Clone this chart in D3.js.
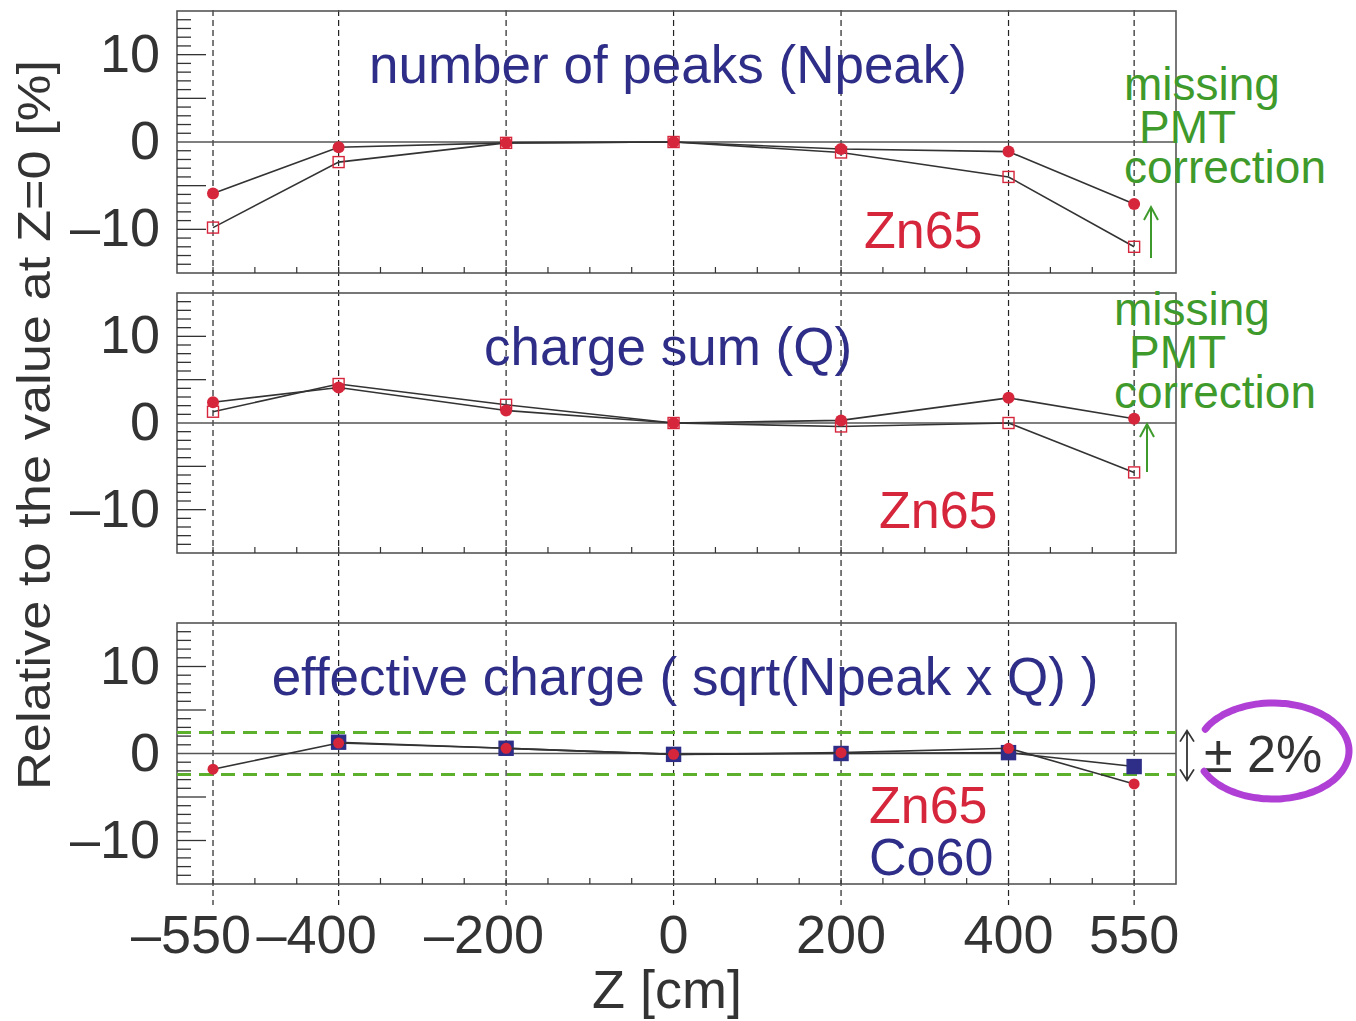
<!DOCTYPE html>
<html>
<head>
<meta charset="utf-8">
<script src="https://cdn.jsdelivr.net/npm/d3@7"></script>
<style>
  body { margin: 0; background: #fff; }
  svg text { font-family: "Liberation Sans", Arial, Helvetica, sans-serif; }
</style>
</head>
<body>
<div id="chart"></div>
<script>
"use strict";

// Z positions of the source runs [cm]
var zPos = [-550, -400, -200, 0, 200, 400, 550];

// number of peaks, relative to Z=0 [%]
var npeakCorrected = [-5.9, -0.6, -0.1, 0, -0.8, -1.1, -7.1];
var npeakRaw       = [-9.8, -2.3, -0.1, 0, -1.2, -4.0, -12.0];

// charge sum
var qCorrected = [2.4, 4.1, 1.45, 0, 0.3, 2.9, 0.5];
var qRaw       = [1.3, 4.5, 2.1, 0, -0.4, 0.0, -5.7];

// effective charge
var effZn65 = [-1.8, 1.2, 0.6, -0.1, 0.1, 0.6, -3.5];
var effCo60 = [null, 1.3, 0.6, -0.1, 0.0, 0.1, -1.5];

var bandLimits = [2.4, -2.4];

var xTickLabels = [-550, -400, -200, 0, 200, 400, 550];
var yTickLabels = [10, 0, -10];

var RED = "#d6263c", NAVY = "#2e2e88", GREEN = "#3f9a2c", AXIS = "#555";

var svg = d3.select("#chart").append("svg")
	.attr("width", 1356).attr("height", 1021);

var x = d3.scaleLinear().domain([-593, 600]).range([177, 1176]);

var panels = [
	{top: 11, bottom: 273, title: "number of peaks (Npeak)", tx: 668, ty: 83},
	{top: 293, bottom: 553, title: "charge sum (Q)", tx: 668, ty: 365},
	{top: 623, bottom: 884, title: "effective charge ( sqrt(Npeak x Q) )", tx: 685, ty: 695}
];
panels.forEach(function(p) {
	p.y = d3.scaleLinear().domain([-15, 15]).range([p.bottom, p.top]);
});

function fmt(d) {
	// IDL style minus
	return d < 0 ? "\u2013" + Math.abs(d) : "" + d;
}

// vertical dashed guides through all panels
svg.append("g").selectAll("line")
	.data(zPos)
	.enter().append("line")
	.attr("x1", function(d) { return x(d); })
	.attr("x2", function(d) { return x(d); })
	.attr("y1", 10).attr("y2", 905)
	.attr("stroke", "#222").attr("stroke-width", 1.2)
	.attr("stroke-dasharray", "6,4");

var line = d3.line()
	.defined(function(d) { return d[1] != null; })
	.x(function(d) { return x(d[0]); });

function drawPanel(p) {
	var g = svg.append("g");
	var y = p.y;

	// box
	g.append("rect")
		.attr("x", x.range()[0]).attr("y", p.top)
		.attr("width", x.range()[1] - x.range()[0])
		.attr("height", p.bottom - p.top)
		.attr("fill", "none").attr("stroke", AXIS).attr("stroke-width", 1.6);

	// zero line
	g.append("line")
		.attr("x1", x.range()[0]).attr("x2", x.range()[1])
		.attr("y1", y(0)).attr("y2", y(0))
		.attr("stroke", AXIS).attr("stroke-width", 1.4);

	// y ticks: minor every 1, major every 5
	var yt = d3.range(-14, 15).filter(function(d) { return d != 0; });
	g.append("g").selectAll("line")
		.data(yt)
		.enter().append("line")
		.attr("x1", x.range()[0])
		.attr("x2", function(d) { return x.range()[0] + (d % 5 == 0 ? 29 : 14); })
		.attr("y1", function(d) { return y(d); })
		.attr("y2", function(d) { return y(d); })
		.attr("stroke", "#333").attr("stroke-width", 1.3);

	// x ticks every 50
	g.append("g").selectAll("line")
		.data(d3.range(-550, 600, 50))
		.enter().append("line")
		.attr("x1", function(d) { return x(d); })
		.attr("x2", function(d) { return x(d); })
		.attr("y1", p.bottom).attr("y2", p.bottom - 6)
		.attr("stroke", "#333").attr("stroke-width", 1.2);

	g.append("g").selectAll("text")
		.data(yTickLabels)
		.enter().append("text")
		.attr("x", 160)
		.attr("y", function(d) { return y(d) + 17; })
		.attr("text-anchor", "end")
		.attr("font-size", 54)
		.attr("fill", "#333")
		.text(fmt);

	g.append("text")
		.attr("x", p.tx).attr("y", p.ty)
		.attr("text-anchor", "middle")
		.attr("font-size", 53)
		.attr("fill", NAVY)
		.text(p.title);

	return g;
}

function drawSeries(g, y, values, kind) {
	var pts = zPos.map(function(z, i) { return [z, values[i]]; });
	g.append("path")
		.attr("d", line.y(function(d) { return y(d[1]); })(pts))
		.attr("fill", "none").attr("stroke", "#333").attr("stroke-width", 1.6);

	var valid = pts.filter(function(d) { return d[1] != null; });
	if (kind == "dot" || kind == "smalldot") {
		g.append("g").selectAll("circle")
			.data(valid)
			.enter().append("circle")
			.attr("cx", function(d) { return x(d[0]); })
			.attr("cy", function(d) { return y(d[1]); })
			.attr("r", kind == "dot" ? 6 : 5.5)
			.attr("fill", RED);
	} else {
		var s = kind == "open" ? 11 : 14;
		g.append("g").selectAll("rect")
			.data(valid)
			.enter().append("rect")
			.attr("x", function(d) { return x(d[0]) - s / 2; })
			.attr("y", function(d) { return y(d[1]) - s / 2; })
			.attr("width", s).attr("height", s)
			.attr("fill", kind == "open" ? "none" : NAVY)
			.attr("stroke", kind == "open" ? RED : NAVY)
			.attr("stroke-width", 1.4);
	}
}

function greenNote(g, x0, y0) {
	var t = g.append("text").attr("font-size", 46).attr("fill", GREEN);
	t.append("tspan").attr("x", x0).attr("y", y0).text("missing");
	t.append("tspan").attr("x", x0 + 15).attr("y", y0 + 43).text("PMT");
	t.append("tspan").attr("x", x0).attr("y", y0 + 83).text("correction");
}

function arrowUp(g, xa, y1, y2, col) {
	g.append("path")
		.attr("d", "M" + xa + "," + y1 + "L" + xa + "," + y2 +
			"M" + (xa - 7) + "," + (y2 + 13) + "L" + xa + "," + y2 + "L" + (xa + 7) + "," + (y2 + 13))
		.attr("fill", "none").attr("stroke", col).attr("stroke-width", 2);
}

// panel 1: Npeak
var g1 = drawPanel(panels[0]);
drawSeries(g1, panels[0].y, npeakRaw, "open");
drawSeries(g1, panels[0].y, npeakCorrected, "dot");
g1.append("text").attr("x", 864).attr("y", 248).attr("font-size", 52)
	.attr("fill", RED).text("Zn65");
greenNote(g1, 1124, 100);
arrowUp(g1, 1151, 258, 207, GREEN);

// panel 2: Q
var g2 = drawPanel(panels[1]);
drawSeries(g2, panels[1].y, qRaw, "open");
drawSeries(g2, panels[1].y, qCorrected, "dot");
g2.append("text").attr("x", 879).attr("y", 528).attr("font-size", 52)
	.attr("fill", RED).text("Zn65");
greenNote(g2, 1114, 325);
arrowUp(g2, 1147, 472, 424, GREEN);

// panel 3: effective charge
var p3 = panels[2];
var g3 = drawPanel(p3);
g3.append("g").selectAll("line")
	.data(bandLimits)
	.enter().append("line")
	.attr("x1", x.range()[0]).attr("x2", x.range()[1])
	.attr("y1", function(d) { return p3.y(d); })
	.attr("y2", function(d) { return p3.y(d); })
	.attr("stroke", "#5cb02c").attr("stroke-width", 3)
	.attr("stroke-dasharray", "14,8");
drawSeries(g3, p3.y, effCo60, "square");
drawSeries(g3, p3.y, effZn65, "smalldot");
g3.append("text").attr("x", 869).attr("y", 823).attr("font-size", 52)
	.attr("fill", RED).text("Zn65");
g3.append("text").attr("x", 869).attr("y", 875).attr("font-size", 52)
	.attr("fill", NAVY).text("Co60");

// +-2% marker
var ya = p3.y(bandLimits[0]) - 2, yb = p3.y(bandLimits[1]) + 6;
g3.append("path")
	.attr("d", "M1187," + ya + "L1187," + yb +
		"M1180," + (ya + 11) + "L1187," + ya + "L1194," + (ya + 11) +
		"M1180," + (yb - 11) + "L1187," + yb + "L1194," + (yb - 11))
	.attr("fill", "none").attr("stroke", "#333").attr("stroke-width", 1.8);
g3.append("text").attr("x", 1204).attr("y", 772).attr("font-size", 52)
	.attr("fill", "#333").text("\u00b1 2%");
// hand-drawn circle, open on its left side
var ell = d3.range(205, 515, 4).map(function(a) {
	var r = a * Math.PI / 180;
	return [1273 + 76 * Math.cos(r), 751 - 48 * Math.sin(r)];
});
g3.append("path")
	.attr("d", d3.line().curve(d3.curveCardinal)(ell))
	.attr("fill", "none").attr("stroke", "#b03fd6").attr("stroke-width", 7)
	.attr("stroke-linecap", "round");

// x axis labels
svg.append("g").selectAll("text")
	.data(xTickLabels)
	.enter().append("text")
	.attr("x", function(d) { return x(d) + (d < 0 ? -22 : 0); })
	.attr("y", 953)
	.attr("text-anchor", "middle")
	.attr("font-size", 54)
	.attr("fill", "#333")
	.text(fmt);

svg.append("text")
	.attr("x", 667).attr("y", 1008)
	.attr("text-anchor", "middle")
	.attr("font-size", 54)
	.attr("fill", "#333")
	.text("Z [cm]");

svg.append("text")
	.attr("transform", "translate(50,425) rotate(-90)")
	.attr("text-anchor", "middle")
	.attr("font-size", 46)
	.attr("textLength", 730)
	.attr("lengthAdjust", "spacingAndGlyphs")
	.attr("fill", "#333")
	.text("Relative to the value at Z=0 [%]");
</script>
</body>
</html>
